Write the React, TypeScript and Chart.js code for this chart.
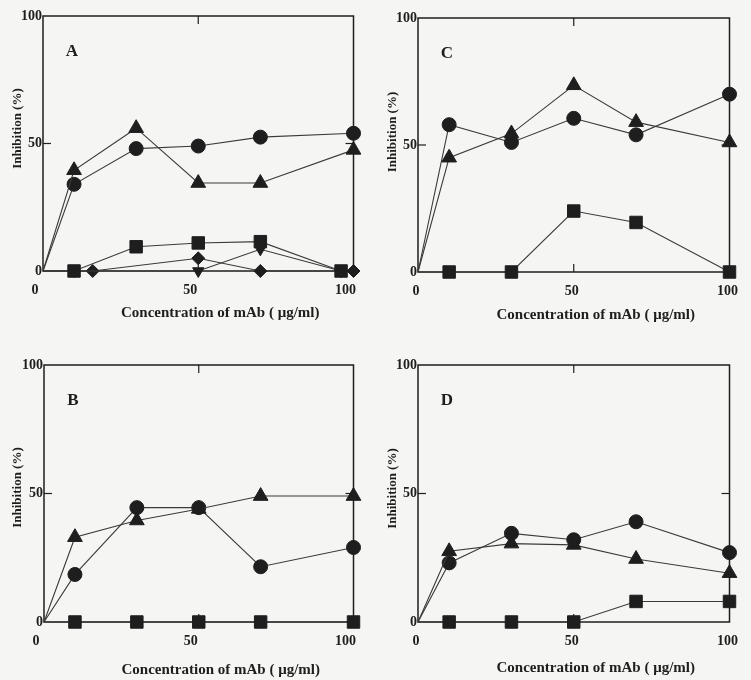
import React, { useEffect, useRef } from "react";
import { Chart, registerables } from "chart.js";

Chart.register(...registerables);

// ---------- data ----------
const xTicks = [0, 50, 100];
const yTicks = [0, 50, 100];
const innerTickValues = [50];
const xTitle = "Concentration of mAb ( μg/ml)";
const yTitle = "Inhibition (%)";
const panelLetters = ["A", "C", "B", "D"];

const conc = [0, 10, 30, 50, 70, 100];

// Panel A
const aCircle = [0, 34, 48, 49, 52.5, 54];
const aTriangle = [0, 39.5, 56, 34.5, 34.5, 47.5];
const aSquareX = [0, 10, 30, 50, 70, 96];
const aSquare = [0, 0, 9.5, 11, 11.5, 0];
const aDiamondX = [0, 16, 50, 70, 100];
const aDiamond = [0, 0, 5, 0, 0];
const aInvTriX = [0, 10, 50, 70, 96];
const aInvTri = [0, 0, 0, 8.5, 0];

// Panel C
const cCircle = [0, 58, 51, 60.5, 54, 70];
const cTriangle = [0, 45, 54.5, 73.5, 59, 51];
const cSquare = [0, 0, 0, 24, 19.5, 0];

// Panel B
const bCircle = [0, 18.5, 44.5, 44.5, 21.5, 29];
const bTriangle = [0, 33, 39.5, 44, 49, 49];
const bSquare = [0, 0, 0, 0, 0, 0];

// Panel D
const dCircle = [0, 23, 34.5, 32, 39, 27];
const dTriangle = [0, 27.5, 30.5, 30, 24.5, 19];
const dSquare = [0, 0, 0, 0, 8, 8];

// ---------- styles ----------
const INK = "#1e1e1e";
const LINE = "#3a3a3a";
const FONT = "'Liberation Serif', 'Times New Roman', serif";

type Series = { xs: number[]; ys: number[]; style: string; radius: number; rotation?: number };

const circle = (xs: number[], ys: number[]): Series => ({ xs, ys, style: "circle", radius: 7 });
const triangle = (xs: number[], ys: number[]): Series => ({ xs, ys, style: "triangle", radius: 8.5 });
const square = (xs: number[], ys: number[]): Series => ({ xs, ys, style: "rect", radius: 8.8 });
const diamond = (xs: number[], ys: number[]): Series => ({ xs, ys, style: "rectRot", radius: 6.5 });
const invTri = (xs: number[], ys: number[]): Series => ({ xs, ys, style: "triangle", radius: 6.5, rotation: 180 });

const decorPlugin = {
  id: "panelDecor",
  beforeDatasetsDraw(chart: any) {
    const { ctx, chartArea: ca, scales } = chart;
    ctx.save();
    ctx.strokeStyle = INK;
    ctx.lineWidth = 1.5;
    ctx.strokeRect(ca.left, ca.top, ca.right - ca.left, ca.bottom - ca.top);
    ctx.lineWidth = 1.2;
    const L = 8;
    const seg = (x1: number, y1: number, x2: number, y2: number) => {
      ctx.beginPath();
      ctx.moveTo(x1, y1);
      ctx.lineTo(x2, y2);
      ctx.stroke();
    };
    for (const v of innerTickValues) {
      const px = scales.x.getPixelForValue(v);
      seg(px, ca.top, px, ca.top + L);
      seg(px, ca.bottom, px, ca.bottom - L);
      const py = scales.y.getPixelForValue(v);
      seg(ca.left, py, ca.left + L, py);
      seg(ca.right, py, ca.right - L, py);
    }
    ctx.restore();
  },
  afterDraw(chart: any, _args: any, opts: any) {
    const { ctx, chartArea: ca } = chart;
    ctx.save();
    ctx.fillStyle = INK;
    ctx.font = `bold 17px ${FONT}`;
    ctx.textAlign = "center";
    ctx.textBaseline = "middle";
    ctx.fillText(opts.letter, ca.left + 29, ca.top + 36);
    ctx.font = `bold 15px ${FONT}`;
    ctx.fillText(xTitle, (ca.left + ca.right) / 2 + 22, ca.bottom + opts.xTitleDy);
    ctx.font = `bold 13px ${FONT}`;
    ctx.translate(18, (ca.top + ca.bottom) / 2 + opts.yTitleDy);
    ctx.rotate(-Math.PI / 2);
    ctx.fillText(yTitle, 0, 0);
    ctx.restore();
  },
};

type PanelProps = {
  left: number;
  top: number;
  width: number;
  height: number;
  letter: string;
  series: Series[];
  padTop: number;
  padRight: number;
  yW: number;
  xH: number;
  labelOffset: number;
  xTitleDy: number;
  yTitleDy: number;
};

function Panel(p: PanelProps) {
  const ref = useRef<HTMLCanvasElement>(null);
  useEffect(() => {
    const tickFont = { family: FONT, size: 14, weight: "bold" as const };
    const chart = new Chart(ref.current as HTMLCanvasElement, {
      type: "scatter",
      data: {
        datasets: p.series.map((s) => ({
          data: s.xs.map((x, i) => ({ x, y: s.ys[i] })),
          showLine: true,
          tension: 0,
          fill: false,
          borderColor: LINE,
          borderWidth: 1.1,
          backgroundColor: INK,
          pointBackgroundColor: INK,
          pointBorderColor: INK,
          pointBorderWidth: 1,
          pointStyle: s.style as any,
          pointRadius: s.xs.map((x) => (x === 0 ? 0 : s.radius)),
          pointRotation: s.rotation || 0,
          clip: false as any,
        })),
      },
      options: {
        responsive: false,
        animation: false,
        devicePixelRatio: 1,
        layout: { padding: { left: 0, top: p.padTop, right: p.padRight, bottom: 0 } },
        plugins: {
          legend: { display: false },
          tooltip: { enabled: false },
          panelDecor: { letter: p.letter, xTitleDy: p.xTitleDy, yTitleDy: p.yTitleDy },
        } as any,
        scales: {
          x: {
            type: "linear",
            min: 0,
            max: 100,
            afterBuildTicks: (s: any) => {
              s.ticks = xTicks.map((v) => ({ value: v }));
            },
            ticks: { font: tickFont, color: INK, padding: 11, labelOffset: p.labelOffset, maxRotation: 0 },
            grid: { display: false, drawTicks: false },
            border: { display: false },
            afterFit: (s: any) => {
              s.height = p.xH;
            },
          },
          y: {
            type: "linear",
            min: 0,
            max: 100,
            afterBuildTicks: (s: any) => {
              s.ticks = yTicks.map((v) => ({ value: v }));
            },
            ticks: { font: tickFont, color: INK, padding: 1 },
            grid: { display: false, drawTicks: false },
            border: { display: false },
            afterFit: (s: any) => {
              s.width = p.yW;
            },
          },
        },
      } as any,
      plugins: [decorPlugin as any],
    });
    return () => chart.destroy();
  }, []);
  return (
    <canvas
      ref={ref}
      width={p.width}
      height={p.height}
      style={{ position: "absolute", left: p.left, top: p.top, width: p.width, height: p.height }}
    />
  );
}

export default function App() {
  return (
    <div style={{ position: "absolute", left: 0, top: 0, width: 751, height: 680, background: "#f5f5f3", overflow: "hidden" }}>
      <Panel
        left={0} top={0} width={375} height={340} letter={panelLetters[0]}
        padTop={16} padRight={7} yW={43} xH={69} labelOffset={-8} xTitleDy={42} yTitleDy={-15}
        series={[
          square(aSquareX, aSquare),
          invTri(aInvTriX, aInvTri),
          diamond(aDiamondX, aDiamond),
          triangle(conc, aTriangle),
          circle(conc, aCircle),
        ]}
      />
      <Panel
        left={375} top={0} width={376} height={340} letter={panelLetters[1]}
        padTop={18} padRight={11} yW={43} xH={68} labelOffset={-2} xTitleDy={43} yTitleDy={-13}
        series={[square(conc, cSquare), triangle(conc, cTriangle), circle(conc, cCircle)]}
      />
      <Panel
        left={0} top={340} width={375} height={340} letter={panelLetters[2]}
        padTop={25} padRight={8} yW={44} xH={58} labelOffset={-8} xTitleDy={48} yTitleDy={-6}
        series={[square(conc, bSquare), triangle(conc, bTriangle), circle(conc, bCircle)]}
      />
      <Panel
        left={375} top={340} width={376} height={340} letter={panelLetters[3]}
        padTop={25} padRight={13} yW={43} xH={58} labelOffset={-2} xTitleDy={46} yTitleDy={-5}
        series={[square(conc, dSquare), triangle(conc, dTriangle), circle(conc, dCircle)]}
      />
    </div>
  );
}
